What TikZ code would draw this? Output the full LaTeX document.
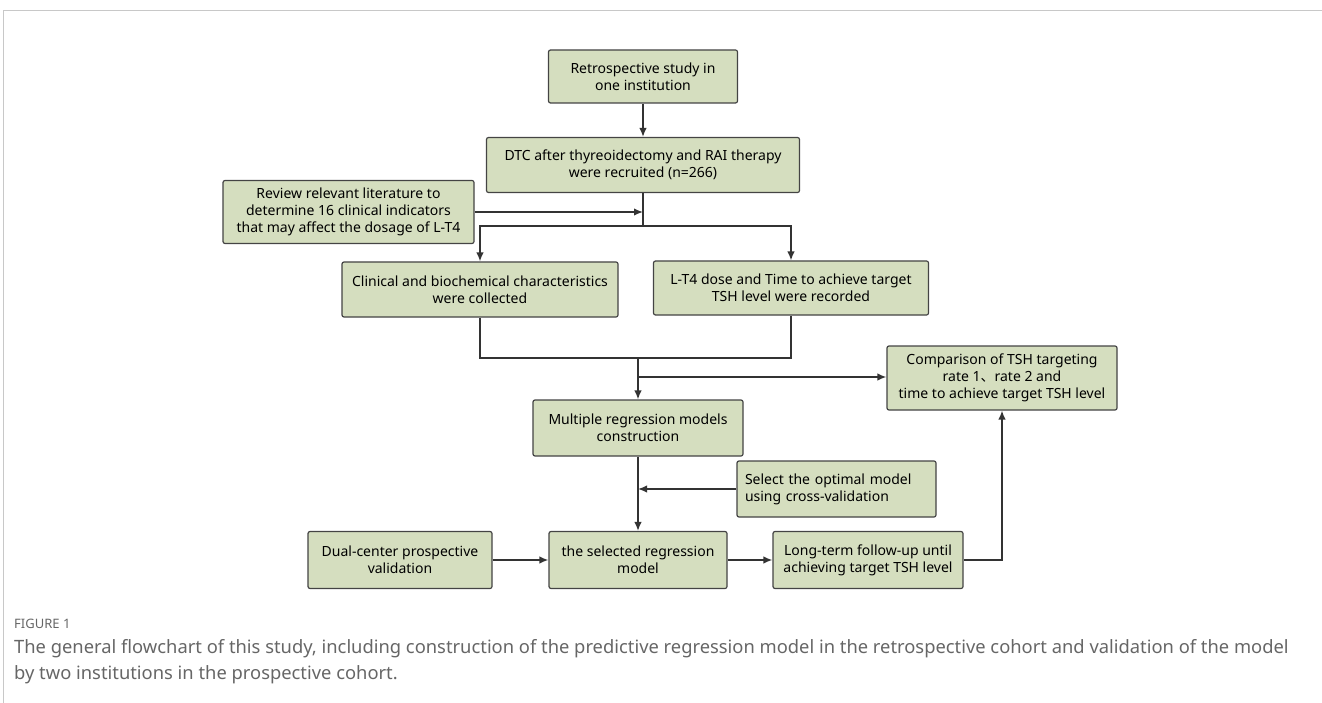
\documentclass[tikz,border=0pt]{standalone}
\usepackage{fontspec}
\setmainfont{Noto Sans}
\newfontfamily\cjk{Noto Sans CJK SC}
\usetikzlibrary{arrows.meta}

\definecolor{boxfill}{RGB}{213,222,191}
\definecolor{boxline}{RGB}{68,68,68}
\definecolor{wirecol}{RGB}{51,51,51}
\definecolor{capgray}{RGB}{102,102,102}
\definecolor{framegray}{RGB}{200,200,200}

\begin{document}
\begin{tikzpicture}
	[x=1pt, y=-1pt,
	box/.style={draw=boxline, fill=boxfill, line width=1.2pt, rounded corners=2pt,
		inner sep=0pt, align=center, font=\fontsize{14}{17}\selectfont},
	link/.style={wirecol, line width=1.5pt},
	arr/.style={link, -{Latex[length=9pt,width=7.5pt]}}]

	% Page frame
	\useasboundingbox (0,0) rectangle (1322,703);
	\draw[framegray, line width=1pt] (3,703) -- (3,11) -- (1322,11);

	% Boxes
	\node[box, minimum width=189pt, minimum height=53pt] (start) at (643,76.5)
		{Retrospective study in\\one institution};
	\node[box, minimum width=313pt, minimum height=55pt] (recruit) at (643,165)
		{DTC after thyreoidectomy and RAI therapy\\were recruited (n=266)};
	\node[box, minimum width=251pt, minimum height=63pt] (review) at (348.5,212)
		{Review relevant literature to\\determine 16 clinical indicators\\that may affect the dosage of L-T4};
	\node[box, minimum width=276pt, minimum height=55pt] (clinical) at (480,289.5)
		{Clinical and biochemical characteristics\\were collected};
	\node[box, minimum width=275pt, minimum height=54pt] (dose) at (791,288)
		{L-T4 dose and Time to achieve target\\TSH level were recorded};
	\node[box, minimum width=230pt, minimum height=64pt] (compare) at (1002,378)
		{Comparison of TSH targeting\\rate 1{\cjk 、}rate 2 and\\time to achieve target TSH level};
	\node[box, minimum width=210pt, minimum height=56pt] (multi) at (638,428)
		{Multiple regression models\\construction};
	\node[box, minimum width=199pt, minimum height=56pt, text width=183pt, align=left] (select) at (836.5,489)
		{Select the optimal model\\using cross-validation};
	\node[box, minimum width=184pt, minimum height=57pt] (dual) at (400,560)
		{Dual-center prospective\\validation};
	\node[box, minimum width=178pt, minimum height=57pt] (chosen) at (638,560)
		{the selected regression\\model};
	\node[box, minimum width=190pt, minimum height=57pt] (followup) at (868,560)
		{Long-term follow-up until\\achieving target TSH level};

	% Junctions
	\coordinate (split) at (643,226);
	\coordinate (merge) at (638,358);
	\coordinate (tap) at (638,377);

	% Connectors
	\draw[arr] (start) -- (recruit);
	\draw[link] (recruit) -- (split);
	\draw[arr] (review.east) -- (review.east -| split);
	\draw[arr] (split) -| (clinical);
	\draw[arr] (split) -| (dose);
	\draw[link] (clinical) |- (merge);
	\draw[link] (dose) |- (merge);
	\draw[arr] (merge) -- (multi);
	\draw[arr] (tap) -- (tap -| compare.west);
	\draw[arr] (multi) -- (chosen);
	\draw[arr] (select.west) -- (select.west -| multi);
	\draw[arr] (dual) -- (chosen);
	\draw[arr] (chosen) -- (followup);
	\draw[arr] (followup.east) -| (compare.south);

	% Caption
	\node[anchor=base west, inner sep=0pt, text=capgray, font=\fontsize{13}{15}\selectfont] (figno) at (14,628)
		{FIGURE 1};
	\node[anchor=north west, inner sep=0pt, text=capgray, align=left, font=\fontsize{18.35}{26}\selectfont] (caption) at (14,639)
		{The general flowchart of this study, including construction of the predictive regression model in the retrospective cohort and validation of the model\\by two institutions in the prospective cohort.};
\end{tikzpicture}
\end{document}
